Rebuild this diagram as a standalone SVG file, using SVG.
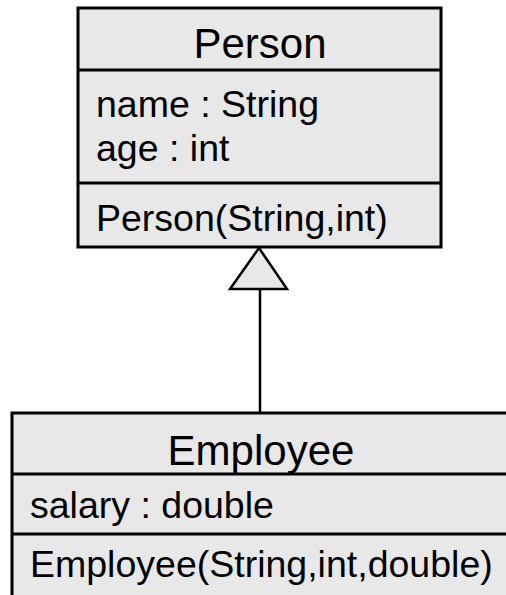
<svg xmlns="http://www.w3.org/2000/svg" width="506" height="595" viewBox="0 0 506 595">
  <style>
    .box { fill: #e8e8e8; stroke: #000; stroke-width: 3; }
    .div { stroke: #000; stroke-width: 3; }
    .title { font-family: "Liberation Sans", Arial, sans-serif; font-size: 42px; fill: #000; text-anchor: middle; }
    .member { font-family: "Liberation Sans", Arial, sans-serif; font-size: 37.5px; fill: #000; }
    .edge { stroke: #000; stroke-width: 2.5; fill: none; }
    .head { fill: #e8e8e8; stroke: #000; stroke-width: 2.5; stroke-linejoin: miter; }
  </style>
  <rect width="506" height="595" fill="#fff"/>

  <g id="connectors">
    <!-- generalization: Employee inherits Person -->
    <line class="edge" x1="260" y1="289" x2="260" y2="413"/>
    <polygon class="head" points="259,248 230,289 287,289"/>
  </g>

  <g id="person">
    <rect class="box" x="78" y="8" width="363" height="239"/>
    <line class="div" x1="78" y1="70" x2="441" y2="70"/>
    <line class="div" x1="78" y1="183" x2="441" y2="183"/>
    <text class="title" x="260" y="58">Person</text>
    <text class="member" x="96" y="117">name : String</text>
    <text class="member" x="96" y="161">age : int</text>
    <text class="member" x="96" y="231">Person(String,int)</text>
  </g>

  <g id="employee">
    <rect class="box" x="12" y="413" width="520" height="220"/>
    <line class="div" x1="12" y1="474" x2="532" y2="474"/>
    <line class="div" x1="12" y1="534" x2="532" y2="534"/>
    <text class="title" x="261" y="465">Employee</text>
    <text class="member" x="30" y="518">salary : double</text>
    <text class="member" x="30" y="577">Employee(String,int,double)</text>
  </g>
</svg>
